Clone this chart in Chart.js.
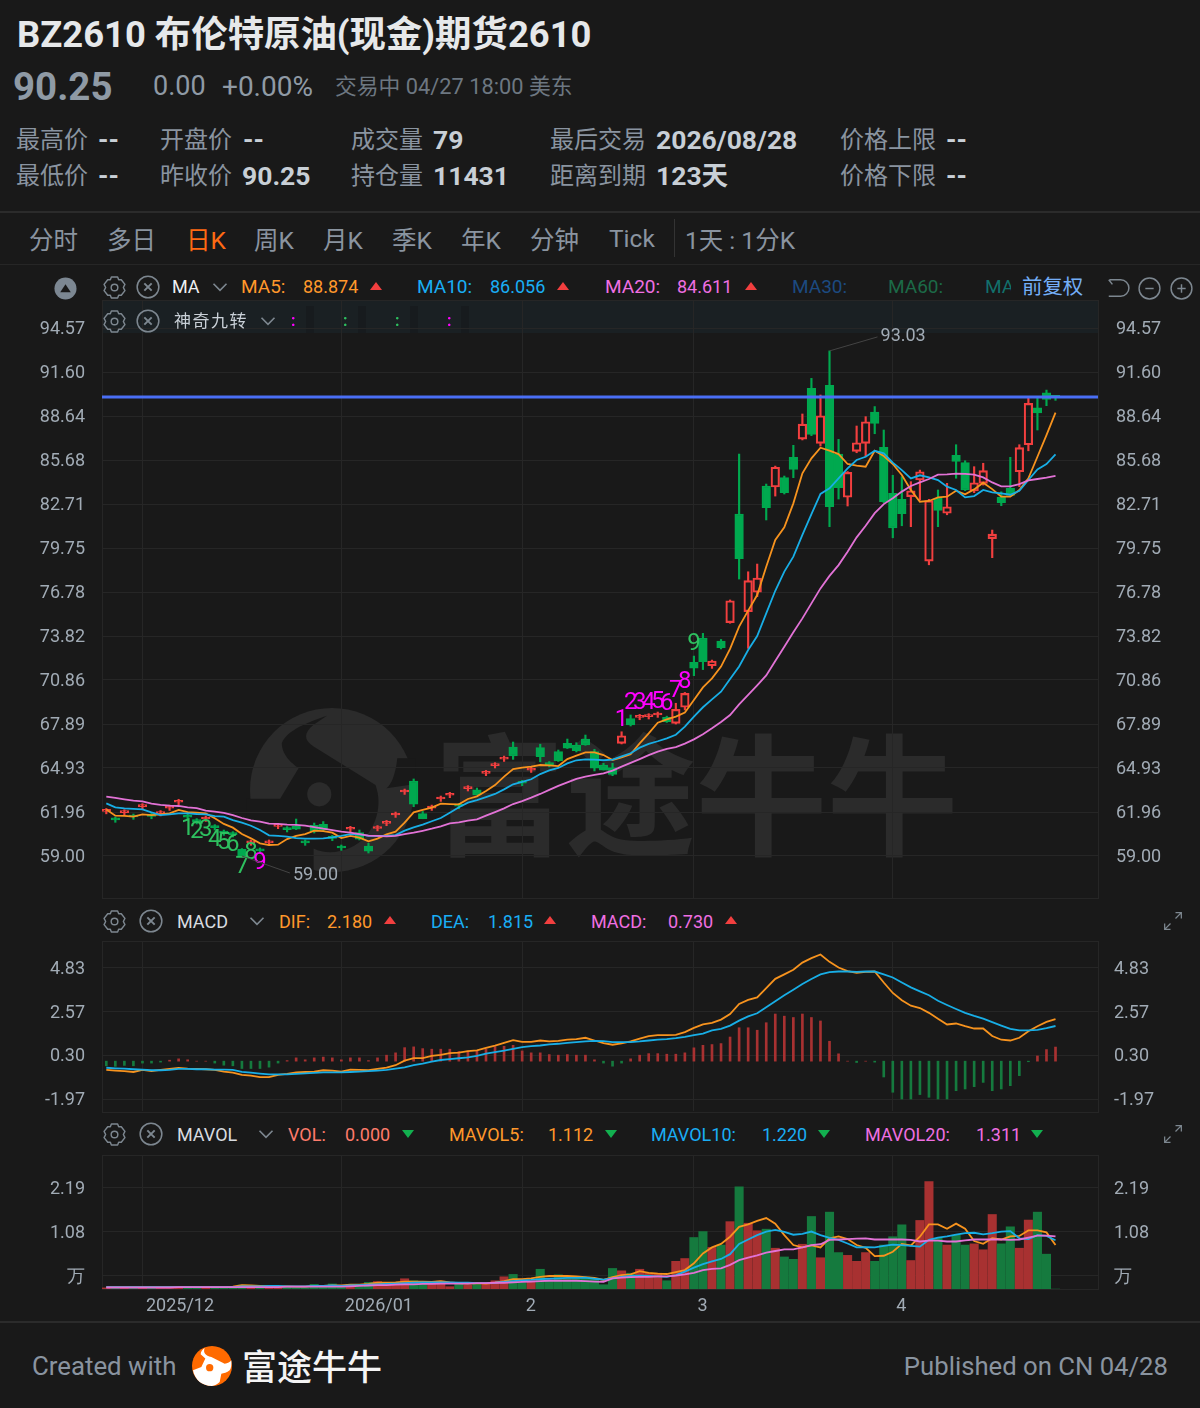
<!DOCTYPE html>
<html lang="zh">
<head>
<meta charset="utf-8">
<title>BZ2610</title>
<script src="https://cdn.jsdelivr.net/npm/chart.js@4"></script>
<style>
html, body { margin: 0; padding: 0; background: #191919; }
#page { position: relative; width: 1200px; height: 1408px; overflow: hidden; background: #191919;
    font-family: Roboto, "Noto Sans CJK SC", sans-serif; }
#page span { position: absolute; white-space: nowrap; transform: translateY(-50%); }
#page canvas { position: absolute; left: 0; }
.line { position: absolute; left: 0; width: 1200px; background: #262626; }
.frame { position: absolute; left: 102px; width: 995px; border: 1px solid #262626; }
svg.icon { position: absolute; overflow: visible; }
</style>
</head>
<body>
<div id="page">
    <div class="line" style="top:211px;height:2px;background:#2b2b2b"></div>
    <div class="line" style="top:264px;height:1px"></div>
    <div class="line" style="top:1321px;height:2px;background:#2b2b2b"></div>
    <div style="position:absolute;left:674px;top:219px;width:1px;height:38px;background:#333"></div>

    <!-- полоса строки神奇九转 -->
    <div style="position:absolute;left:102px;top:300px;width:996px;height:33px;background:#1a2023"></div>
    <div style="position:absolute;left:306px;top:306px;width:8px;height:27px;background:#171b1e"></div>
    <div style="position:absolute;left:358px;top:306px;width:8px;height:27px;background:#171b1e"></div>
    <div style="position:absolute;left:410px;top:306px;width:8px;height:27px;background:#171b1e"></div>
    <div style="position:absolute;left:461px;top:306px;width:8px;height:27px;background:#171b1e"></div>

    <!-- водяной знак -->
    <svg class="icon" style="left:250px;top:708px" width="164" height="164" viewBox="450 85 490 490">
        <circle cx="695" cy="330" r="245" fill="#2b2b2b"/>
        <path d="M680,108 C630,125 560,150 545,190 C545,225 575,250 595,265 L540,356 L440,356 L440,590 L640,590 L640,505
            C690,530 760,510 795,470 C830,430 845,370 825,315 L640,200 C610,180 610,160 640,135 Z" fill="#191919"/>
        <path d="M890,235 C885,280 875,310 858,325 L945,312 L945,235 Z" fill="#191919"/>
        <circle cx="657" cy="343" r="36" fill="#2b2b2b"/>
    </svg>
    <span style="left:434px;top:788px;font-size:131px;font-weight:700;color:#2b2b2b">富途牛牛</span>

    <div class="frame" style="top:300px;height:597px"></div>
    <div class="frame" style="top:941px;height:170px"></div>
    <div class="frame" style="top:1155px;height:133px"></div>

    <canvas id="mainChart" width="1200" height="600" style="top:300px"></canvas>
    <canvas id="macdChart" width="1200" height="172" style="top:941px"></canvas>
    <canvas id="volChart" width="1200" height="165" style="top:1155px"></canvas>
</div>

<script>
'use strict';

// цены (свечи)
const openPrice = [
    62.01,61.47,61.92,61.67,62.33,61.71,61.86,62.23,62.62,61.65,
    61.36,61.49,60.95,60.59,60.48,59.45,59.88,59.38,59.88,61.00,
    60.82,61.02,59.92,61.07,61.14,60.23,59.58,60.80,60.57,59.67,
    60.85,61.20,61.76,63.31,64.05,61.86,62.23,62.84,63.09,62.39,
    63.54,63.45,64.57,65.09,65.53,66.34,63.94,64.79,66.30,65.20,
    66.03,66.59,66.48,66.88,66.03,65.13,64.95,66.59,68.25,68.34,
    68.39,68.50,68.34,67.94,69.02,72.05,73.69,71.82,73.48,74.72,
    82.04,75.46,76.77,83.93,83.86,84.49,85.86,87.09,90.51,86.80,
    90.71,86.08,83.17,86.26,86.80,88.91,86.53,83.43,83.03,83.21,
    84.33,78.87,83.10,82.09,86.00,85.50,83.59,84.11,80.38,83.17,
    83.77,84.89,86.71,89.20,90.21,89.92
];
const highPrice = [
    62.20,61.63,62.12,61.83,62.53,61.87,62.06,62.43,62.82,61.81,
    61.52,61.69,61.11,60.75,60.64,59.50,60.08,59.54,60.08,61.20,
    60.98,61.49,60.08,61.22,61.32,60.39,59.74,61.00,60.75,59.86,
    61.05,61.40,61.96,63.51,64.19,62.00,62.43,63.04,63.29,62.55,
    63.74,63.58,64.77,65.29,65.73,66.68,64.10,64.99,66.53,65.36,
    66.14,66.88,66.63,67.15,66.19,65.25,65.25,67.37,68.50,68.54,
    68.59,68.70,68.42,69.29,70.02,72.47,74.00,72.20,73.59,76.25,
    86.08,78.15,78.67,84.06,85.27,84.60,86.67,88.78,91.18,90.06,
    93.03,87.07,84.90,87.97,88.60,89.28,87.70,84.65,84.55,84.22,
    85.00,83.03,83.66,84.11,86.71,85.63,85.23,85.46,80.96,83.54,
    85.86,86.71,89.86,89.86,90.39,90.00
];
const lowPrice = [
    61.84,61.27,61.76,61.47,62.17,61.51,61.70,62.07,62.46,61.45,
    61.16,61.33,60.75,60.39,60.28,59.00,59.72,59.18,59.72,60.84,
    60.62,60.78,59.72,60.55,60.68,60.03,59.38,60.64,60.08,59.20,
    60.69,61.04,61.60,63.15,62.32,61.51,62.07,62.68,62.93,62.19,
    63.38,63.11,64.41,64.93,65.37,65.51,63.74,64.63,65.35,65.00,
    65.37,66.24,66.01,66.46,64.73,64.79,64.41,66.55,67.76,68.18,
    68.23,68.34,68.00,67.89,68.84,71.15,71.56,71.64,72.95,74.68,
    77.66,72.99,76.47,81.64,83.25,83.39,84.49,87.03,87.32,86.62,
    81.19,83.05,82.58,86.17,85.90,87.45,82.80,80.44,81.25,81.19,
    82.98,78.62,81.19,81.99,84.45,83.61,83.48,83.99,79.10,82.60,
    83.25,83.88,86.30,87.70,89.34,89.70
];
const closePrice = [
    62.05,61.43,61.96,61.63,62.37,61.67,61.90,62.27,62.66,61.61,
    61.32,61.53,60.91,60.55,60.44,59.02,59.92,59.34,59.92,61.04,
    60.78,60.80,59.88,60.66,60.75,60.19,59.54,60.84,60.13,59.32,
    60.89,61.24,61.80,63.35,62.50,61.51,62.27,62.88,63.13,62.35,
    63.58,63.11,64.61,65.13,65.57,65.74,63.90,64.83,65.69,65.16,
    65.42,66.26,66.09,66.48,64.91,64.79,64.50,67.10,67.83,68.38,
    68.43,68.54,68.05,68.88,69.96,71.65,72.09,72.14,73.03,76.20,
    79.03,77.55,77.73,82.46,85.19,83.48,85.05,88.10,87.41,88.66,
    82.53,83.81,84.85,86.84,88.26,88.15,82.87,81.10,82.06,83.61,
    84.89,82.94,82.29,82.53,85.59,83.66,84.15,84.96,80.69,82.80,
    83.30,86.51,89.50,88.85,89.77,89.90
];

// скользящие средние
const ma5 = [
    62.14,61.72,61.70,61.65,61.81,61.76,61.81,61.87,62.10,61.96,
    61.92,61.87,61.54,61.16,60.91,60.48,60.19,59.85,59.74,59.76,
    60.14,60.35,60.48,60.71,60.68,60.57,60.21,60.35,60.23,59.99,
    60.17,60.46,60.64,61.25,61.94,62.10,62.26,62.53,62.50,62.48,
    62.84,63.02,63.38,63.78,64.35,64.86,64.95,65.02,65.13,65.11,
    65.06,65.53,65.76,65.98,65.98,65.80,65.47,65.65,65.85,66.59,
    67.26,67.98,68.21,68.39,68.66,69.51,70.36,70.97,71.76,72.95,
    74.45,75.53,76.58,78.49,80.29,81.14,82.76,84.78,85.79,86.51,
    86.31,86.08,85.41,85.30,85.23,86.30,85.95,85.41,84.67,83.66,
    82.87,82.92,83.16,83.21,83.61,83.37,83.70,84.15,83.72,83.21,
    83.21,83.66,84.44,85.90,87.36,88.87
];
const ma10 = [
    62.55,62.28,62.21,62.17,62.14,61.94,61.76,61.81,61.87,61.87,
    61.83,61.81,61.69,61.65,61.42,61.25,61.04,60.75,60.39,60.35,
    60.30,60.21,60.17,60.17,60.19,60.26,60.35,60.48,60.46,60.35,
    60.35,60.35,60.41,60.71,60.93,61.11,61.34,61.56,61.92,62.28,
    62.59,62.77,62.97,63.18,63.49,63.83,63.99,64.17,64.52,64.77,
    64.93,65.24,65.45,65.51,65.49,65.45,65.49,65.71,65.92,66.30,
    66.55,66.73,66.93,67.17,67.71,68.39,69.02,69.55,70.07,70.92,
    71.77,72.88,73.82,75.35,76.87,78.16,79.17,80.63,82.04,83.39,
    83.77,84.44,85.12,85.68,85.90,86.30,86.13,85.50,85.00,84.44,
    84.65,84.51,84.33,83.88,83.66,83.16,83.25,83.66,83.50,83.43,
    83.34,83.61,84.33,85.05,85.41,86.06
];
const ma20 = [
    63.00,62.91,62.82,62.73,62.68,62.53,62.44,62.39,62.37,62.28,
    62.23,62.05,61.99,61.90,61.76,61.56,61.40,61.31,61.18,61.16,
    61.11,61.09,61.04,60.95,60.84,60.75,60.64,60.57,60.48,60.37,
    60.35,60.32,60.35,60.48,60.57,60.70,60.84,61.00,61.20,61.27,
    61.38,61.47,61.72,61.96,62.21,62.50,62.70,62.93,63.18,63.45,
    63.72,63.96,64.19,64.35,64.46,64.57,64.75,65.02,65.27,65.53,
    65.80,66.03,66.21,66.34,66.57,66.86,67.20,67.60,68.03,68.50,
    69.22,69.85,70.50,71.17,72.14,73.10,74.07,75.01,76.02,77.03,
    77.87,78.60,79.50,80.47,81.25,82.10,82.71,83.10,83.55,83.93,
    84.17,84.40,84.69,84.71,84.76,84.74,84.69,84.51,84.17,83.90,
    83.90,84.06,84.31,84.40,84.49,84.61
];

// MACD
const difLine = [
    -0.45,-0.49,-0.52,-0.56,-0.45,-0.52,-0.45,-0.40,-0.35,-0.39,
    -0.40,-0.42,-0.45,-0.54,-0.59,-0.71,-0.75,-0.83,-0.83,-0.71,
    -0.66,-0.58,-0.56,-0.54,-0.47,-0.49,-0.54,-0.44,-0.45,-0.47,
    -0.40,-0.34,-0.21,0.03,0.16,0.16,0.27,0.33,0.42,0.44,
    0.52,0.56,0.69,0.81,0.95,1.09,1.00,1.00,1.07,1.02,
    1.05,1.11,1.14,1.21,1.07,0.93,0.85,0.92,1.02,1.17,
    1.30,1.35,1.35,1.36,1.50,1.72,1.90,1.98,2.15,2.44,
    2.96,3.17,3.30,3.78,4.26,4.49,4.73,5.10,5.33,5.52,
    5.14,4.85,4.66,4.57,4.62,4.64,4.07,3.53,3.15,2.87,
    2.75,2.50,2.19,1.90,1.95,1.81,1.69,1.69,1.30,1.11,
    1.07,1.21,1.55,1.81,2.03,2.18
];
const deaLine = [
    -0.34,-0.37,-0.39,-0.42,-0.44,-0.47,-0.47,-0.45,-0.40,-0.40,
    -0.42,-0.42,-0.44,-0.44,-0.45,-0.56,-0.59,-0.64,-0.68,-0.68,
    -0.68,-0.66,-0.63,-0.61,-0.58,-0.58,-0.58,-0.56,-0.54,-0.52,
    -0.49,-0.45,-0.39,-0.32,-0.21,-0.13,-0.03,0.06,0.11,0.15,
    0.20,0.27,0.39,0.47,0.54,0.63,0.73,0.78,0.81,0.87,
    0.90,0.95,0.99,1.02,1.05,1.04,0.99,0.99,0.99,1.02,
    1.07,1.11,1.14,1.19,1.26,1.35,1.43,1.59,1.67,1.84,
    2.10,2.32,2.48,2.79,3.10,3.41,3.70,3.99,4.25,4.49,
    4.61,4.64,4.64,4.62,4.64,4.64,4.49,4.33,4.07,3.82,
    3.61,3.41,3.13,2.91,2.70,2.50,2.34,2.20,2.02,1.84,
    1.67,1.59,1.59,1.62,1.71,1.82
];
const macdBar = [
    -0.24,-0.27,-0.22,-0.24,-0.10,-0.10,-0.05,0.05,0.12,0.07,
    0,0,-0.10,-0.21,-0.24,-0.38,-0.38,-0.38,-0.31,-0.10,
    0.03,0.17,0.07,0.17,0.21,0.17,0.07,0.17,0.17,0.03,
    0.17,0.31,0.43,0.70,0.74,0.65,0.62,0.62,0.62,0.50,
    0.53,0.53,0.62,0.75,0.77,0.82,0.53,0.43,0.43,0.34,
    0.31,0.34,0.31,0.31,0.07,-0.10,-0.26,-0.10,0.12,0.31,
    0.39,0.39,0.36,0.36,0.43,0.69,0.82,0.86,0.91,1.25,
    1.73,1.73,1.60,1.99,2.44,2.33,2.26,2.44,2.26,2.08,
    1.03,0.38,0,-0.07,0,-0.05,-0.82,-1.61,-1.96,-1.96,
    -1.73,-1.87,-1.96,-1.96,-1.53,-1.44,-1.32,-1.10,-1.53,-1.44,
    -1.27,-0.75,-0.03,0.27,0.60,0.73
];

// объёмы
const volBar = [
    -0.33,-0.34,-0.34,-0.34,-0.34,-0.34,-0.34,-0.33,-0.33,-0.33,
    -0.34,-0.33,-0.33,-0.32,-0.31,-0.26,-0.30,-0.32,-0.27,-0.32,
    -0.32,-0.33,-0.33,-0.24,-0.30,-0.23,-0.30,-0.24,-0.30,-0.19,
    -0.17,-0.22,-0.22,-0.10,-0.15,-0.17,-0.17,-0.16,-0.30,-0.22,
    -0.26,-0.22,-0.22,-0.15,-0.05,0.01,-0.20,-0.15,0.14,-0.15,
    0.00,-0.05,-0.06,-0.06,-0.11,-0.25,0.16,0.10,0.04,0.14,
    0.04,0.04,-0.15,0.34,0.41,0.94,1.09,0.69,0.75,1.34,
    2.22,1.30,1.11,1.15,0.67,0.45,0.39,0.77,1.47,0.43,
    1.58,0.56,0.49,0.34,0.56,0.34,0.75,0.96,1.26,0.36,
    1.37,2.35,0.92,0.75,1.00,0.75,0.78,0.63,1.52,0.78,
    1.21,0.67,1.38,1.58,0.52,-0.36
];
const mavol5 = [
    -0.31,-0.31,-0.31,-0.31,-0.31,-0.31,-0.31,-0.31,-0.31,-0.31,
    -0.31,-0.31,-0.31,-0.31,-0.30,-0.26,-0.27,-0.28,-0.28,-0.29,
    -0.29,-0.30,-0.30,-0.28,-0.28,-0.27,-0.27,-0.25,-0.25,-0.23,
    -0.20,-0.20,-0.19,-0.17,-0.17,-0.17,-0.18,-0.16,-0.19,-0.21,
    -0.22,-0.21,-0.22,-0.20,-0.16,-0.11,-0.11,-0.09,-0.05,-0.03,
    -0.03,-0.03,-0.04,-0.06,-0.08,-0.13,-0.06,-0.01,0.01,0.09,
    0.05,0.03,0.02,0.07,0.12,0.29,0.54,0.69,0.78,0.96,
    1.21,1.27,1.36,1.43,1.29,1.00,0.75,0.69,0.74,0.69,
    0.92,0.97,0.90,0.75,0.68,0.47,0.48,0.58,0.78,0.74,
    0.96,1.27,1.27,1.16,1.29,1.16,0.85,0.78,0.92,0.89,
    0.97,0.98,1.12,1.12,1.07,0.75
];
const mavol10 = [
    -0.31,-0.31,-0.31,-0.31,-0.31,-0.31,-0.31,-0.31,-0.31,-0.31,
    -0.31,-0.31,-0.31,-0.31,-0.31,-0.29,-0.29,-0.29,-0.28,-0.28,
    -0.29,-0.29,-0.29,-0.28,-0.28,-0.27,-0.28,-0.27,-0.26,-0.25,
    -0.24,-0.23,-0.22,-0.21,-0.20,-0.19,-0.19,-0.19,-0.19,-0.20,
    -0.20,-0.21,-0.21,-0.20,-0.18,-0.16,-0.14,-0.13,-0.11,-0.10,
    -0.09,-0.08,-0.08,-0.07,-0.10,-0.12,-0.09,-0.05,-0.03,-0.02,
    -0.03,-0.04,-0.05,-0.01,0.08,0.18,0.27,0.34,0.40,0.52,
    0.78,0.89,1.00,1.09,1.13,1.08,1.01,1.03,1.09,1.00,
    0.93,0.88,0.79,0.69,0.70,0.69,0.73,0.76,0.75,0.73,
    0.71,0.88,0.94,0.97,1.01,1.05,1.06,1.02,1.05,1.09,
    1.10,0.92,0.90,1.00,0.98,0.87
];
const mavol20 = [
    -0.32,-0.32,-0.32,-0.32,-0.32,-0.32,-0.32,-0.32,-0.31,-0.31,
    -0.31,-0.31,-0.31,-0.31,-0.31,-0.31,-0.31,-0.31,-0.31,-0.31,
    -0.30,-0.30,-0.30,-0.30,-0.30,-0.30,-0.30,-0.29,-0.28,-0.27,
    -0.26,-0.26,-0.25,-0.24,-0.24,-0.23,-0.23,-0.22,-0.22,-0.22,
    -0.22,-0.21,-0.21,-0.20,-0.20,-0.19,-0.18,-0.17,-0.16,-0.15,
    -0.15,-0.15,-0.15,-0.16,-0.17,-0.18,-0.09,-0.07,-0.06,-0.05,
    -0.05,-0.04,-0.04,-0.02,0.01,0.05,0.12,0.15,0.16,0.25,
    0.37,0.43,0.49,0.56,0.60,0.64,0.64,0.69,0.75,0.77,
    0.88,0.89,0.90,0.91,0.92,0.89,0.89,0.89,0.89,0.88,
    0.84,0.86,0.86,0.84,0.84,0.87,0.89,0.89,0.89,0.89,
    0.88,0.89,0.94,0.99,0.99,0.97
];

// подписи осей
const priceTicks = [94.57, 91.60, 88.64, 85.68, 82.71, 79.75, 76.78, 73.82, 70.86, 67.89, 64.93, 61.96, 59.00];
const macdTicks = [4.83, 2.57, 0.30, -1.97];
const volTicks = [2.19, 1.08, -0.03];
const volTickLabels = ['2.19', '1.08', '万'];
const dateTicks = [4, 26, 46, 65, 87];
const dateLabels = ['2025/12', '2026/01', '2', '3', '4'];

// синяя линия цены и экстремумы
const priceLine = 89.92;
const extremeIndex = [80, 15];
const extremeValue = [93.03, 59.00];

//神奇九转: индекс свечи и уровень цифры
const nineDownIndex = [9, 10, 11, 12, 13, 14, 15, 16, 17];
const nineDownLevel = [60.82, 60.62, 60.75, 60.08, 59.88, 59.74, 58.26, 59.20, 58.53];
const nineUpIndex = [57, 58, 59, 60, 61, 62, 63, 64, 65];
const nineUpLevel = [68.16, 69.31, 69.31, 69.31, 69.37, 69.24, 70.12, 70.72, 73.28];

const X_MIN = -0.476, X_MAX = 109.7;
const RED = '#f23f3f', GREEN = '#00a94f';
const VOL_RED = '#a83131', VOL_GREEN = '#157a3e';
const ORANGE = '#f7931e', CYAN = '#18aee6', PINK = '#e272d6';
const GRID = '#262626', TICK_COLOR = '#a1abb5';

const isUp = (i) => closePrice[i] >= openPrice[i];
const toPoints = (arr) => arr.map((v, i) => ({ x: i, y: v }));
const candleColor = (ctx) => (isUp(ctx.dataIndex) ? RED : GREEN);
const volumeColor = (ctx) => (isUp(ctx.dataIndex) ? VOL_RED : VOL_GREEN);

function lineSet(points, color, order, width) {
    return {
        type: 'line',
        data: points,
        borderColor: color,
        borderWidth: width || 1.8,
        pointRadius: 0,
        tension: 0,
        order: order,
    };
}

// библиотека резервирует место под подписи крайних делений, здесь оно не нужно
function noPadding(axis) {
    axis.paddingTop = 0;
    axis.paddingBottom = 0;
    axis.paddingLeft = 0;
    axis.paddingRight = 0;
}

function xAxis(showLabels) {
    return {
        type: 'linear',
        min: X_MIN,
        max: X_MAX,
        offset: false,
        grid: { color: GRID, offset: false, drawTicks: false },
        border: { display: false },
        afterBuildTicks(axis) {
            axis.ticks = dateTicks.map((v) => ({ value: v }));
        },
        afterFit(axis) {
            axis.height = showLabels ? 31 : 2;
            noPadding(axis);
        },
        ticks: {
            display: showLabels,
            autoSkip: false,
            maxRotation: 0,
            align: 'start',
            labelOffset: 3.5,
            padding: 7,
            color: TICK_COLOR,
            font: { family: 'Roboto', size: 18 },
            callback: (v, i) => dateLabels[i],
        },
    };
}

function yAxes(min, max, values, labelFor, rightPad) {
    const base = {
        min: min,
        max: max,
        border: { display: false },
        afterBuildTicks(axis) {
            axis.ticks = values.map((v) => ({ value: v }));
        },
        afterFit(axis) {
            axis.width = 102;
            noPadding(axis);
        },
    };
    const ticks = {
        autoSkip: false,
        labelOffset: 1.5,
        color: TICK_COLOR,
        font: { family: 'Roboto', size: 18 },
        callback: labelFor,
    };
    return {
        y: Object.assign({}, base, {
            position: 'left',
            grid: { color: GRID, drawTicks: false },
            ticks: Object.assign({}, ticks, { padding: 17 }),
        }),
        yRight: Object.assign({}, base, {
            position: 'right',
            grid: { drawOnChartArea: false, drawTicks: false },
            ticks: Object.assign({}, ticks, { padding: rightPad }),
        }),
    };
}

function baseOptions(x, y) {
    return {
        responsive: false,
        animation: false,
        layout: { autoPadding: false },
        plugins: { legend: { display: false }, tooltip: { enabled: false } },
        scales: Object.assign({ x: x }, y),
    };
}

// цифры девятки и подписи экстремумов рисуем по шкалам графика
const mainOverlay = {
    id: 'mainOverlay',
    afterDatasetsDraw(chart) {
        const ctx = chart.ctx;
        const xs = chart.scales.x;
        const ys = chart.scales.y;
        ctx.save();
        ctx.textAlign = 'center';
        ctx.textBaseline = 'middle';
        ctx.font = '400 24px Roboto';
        nineDownIndex.forEach((idx, n) => {
            ctx.fillStyle = n === 8 ? '#ff00ff' : '#2ec05f';
            ctx.fillText(String(n + 1), xs.getPixelForValue(idx), ys.getPixelForValue(nineDownLevel[n]));
        });
        nineUpIndex.forEach((idx, n) => {
            ctx.fillStyle = n === 8 ? '#2ec05f' : '#ff00ff';
            ctx.fillText(String(n + 1), xs.getPixelForValue(idx), ys.getPixelForValue(nineUpLevel[n]));
        });
        ctx.font = '18px Roboto';
        ctx.textAlign = 'left';
        extremeIndex.forEach((idx, n) => {
            const px = xs.getPixelForValue(idx);
            const py = ys.getPixelForValue(extremeValue[n]);
            const dy = n === 0 ? -14 : 17;
            ctx.strokeStyle = '#444';
            ctx.lineWidth = 1;
            ctx.beginPath();
            ctx.moveTo(px, py);
            ctx.lineTo(px + 48, py + dy);
            ctx.stroke();
            ctx.fillStyle = '#a1abb5';
            ctx.fillText(extremeValue[n].toFixed(2), px + 51, py + dy + (n === 0 ? 0 : 3));
        });
        ctx.restore();
    },
};

const bodyTop = (i) => Math.max(openPrice[i], closePrice[i]);
const bodyBottom = (i) => Math.min(openPrice[i], closePrice[i]);
const candleIdx = openPrice.map((v, i) => i);

new Chart(document.getElementById('mainChart'), {
    type: 'bar',
    data: {
        datasets: [
            lineSet([{ x: X_MIN, y: priceLine }, { x: X_MAX, y: priceLine }], '#4a6ff5', 0, 3),
            lineSet(toPoints(ma20), PINK, 1),
            lineSet(toPoints(ma10), CYAN, 2),
            lineSet(toPoints(ma5), ORANGE, 3),
            {
                // верхняя тень
                data: candleIdx.map((i) => ({ x: i, y: [bodyTop(i), highPrice[i]] })),
                backgroundColor: candleColor,
                barThickness: 1.5,
                grouped: false,
                order: 5,
            },
            {
                // нижняя тень
                data: candleIdx.map((i) => ({ x: i, y: [lowPrice[i], bodyBottom(i)] })),
                backgroundColor: candleColor,
                barThickness: 1.5,
                grouped: false,
                order: 5,
            },
            {
                // тело свечи: рост полый, падение залитое
                data: candleIdx.map((i) => ({ x: i, y: [bodyBottom(i), bodyTop(i)] })),
                backgroundColor: (ctx) => (isUp(ctx.dataIndex) ? 'transparent' : GREEN),
                borderColor: candleColor,
                borderWidth: 1.5,
                borderSkipped: false,
                barThickness: 8.6,
                minBarLength: 2,
                grouped: false,
                order: 4,
            },
        ],
    },
    options: baseOptions(xAxis(false), yAxes(56.17, 96.46, priceTicks, (v, i) => priceTicks[i].toFixed(2), 18)),
    plugins: [mainOverlay],
});

new Chart(document.getElementById('macdChart'), {
    type: 'bar',
    data: {
        datasets: [
            lineSet(toPoints(deaLine), CYAN, 1),
            lineSet(toPoints(difLine), ORANGE, 2),
            {
                data: toPoints(macdBar),
                backgroundColor: (ctx) => (macdBar[ctx.dataIndex] >= 0 ? VOL_RED : VOL_GREEN),
                barThickness: 2,
                grouped: false,
                order: 3,
            },
        ],
    },
    options: baseOptions(xAxis(false), yAxes(-2.58, 6.22, macdTicks, (v, i) => macdTicks[i].toFixed(2), 16)),
});

new Chart(document.getElementById('volChart'), {
    type: 'bar',
    data: {
        datasets: [
            lineSet(toPoints(mavol20), PINK, 1),
            lineSet(toPoints(mavol10), CYAN, 2),
            lineSet(toPoints(mavol5), ORANGE, 3),
            {
                data: toPoints(volBar),
                base: -0.36,
                backgroundColor: volumeColor,
                barThickness: 8.4,
                grouped: false,
                order: 4,
            },
        ],
    },
    options: baseOptions(xAxis(true), yAxes(-0.358, 3.02, volTicks, (v, i) => volTickLabels[i], 16)),
});

// всё, что вокруг графика: текст и значки
const page = document.getElementById('page');

function txt(x, y, size, color, text, weight) {
    const s = document.createElement('span');
    s.style.left = x + 'px';
    s.style.top = y + 'px';
    s.style.fontSize = size + 'px';
    s.style.color = color;
    if (weight) s.style.fontWeight = weight;
    s.textContent = text;
    page.appendChild(s);
    return s;
}

function icon(x, y, size, inner) {
    const ns = 'http://www.w3.org/2000/svg';
    const el = document.createElementNS(ns, 'svg');
    el.setAttribute('class', 'icon');
    el.setAttribute('width', size);
    el.setAttribute('height', size);
    el.setAttribute('viewBox', '-12 -12 24 24');
    el.style.left = x - size / 2 + 'px';
    el.style.top = y - size / 2 + 'px';
    el.innerHTML = inner;
    page.appendChild(el);
}

const ICON_GREY = '#7d8790';
const gear = () =>
    '<path d="M-3,-10 L3,-10 L4,-7.5 L6.5,-7.5 L10,-3 L8.5,0 L10,3 L6.5,7.5 L4,7.5 L3,10 L-3,10 L-4,7.5 L-6.5,7.5 L-10,3 L-8.5,0 L-10,-3 L-6.5,-7.5 L-4,-7.5 Z" fill="none" stroke="' +
    ICON_GREY + '" stroke-width="1.4" stroke-linejoin="round"/><circle r="3.2" fill="none" stroke="' + ICON_GREY + '" stroke-width="1.4"/>';
const closeCircle = () =>
    '<circle r="10" fill="none" stroke="' + ICON_GREY + '" stroke-width="1.4"/><path d="M-3.4,-3.4 L3.4,3.4 M3.4,-3.4 L-3.4,3.4" stroke="' +
    ICON_GREY + '" stroke-width="1.8"/>';
const chevron = () => '<path d="M-6,-3 L0,3 L6,-3" fill="none" stroke="' + ICON_GREY + '" stroke-width="1.5"/>';
const triUp = (c) => '<path d="M-6,4 L6,4 L0,-4 Z" fill="' + c + '"/>';
const triDown = (c) => '<path d="M-6,-4 L6,-4 L0,4 Z" fill="' + c + '"/>';
const expand = () =>
    '<path d="M3,-10 L10,-10 L10,-3 M10,-10 L3,-3 M-3,10 L-10,10 L-10,3 M-10,10 L-3,3" fill="none" stroke="' + ICON_GREY + '" stroke-width="1.5"/>';

const TITLE = '#e6e8ea', MUTED = '#8f9aa5', LABEL = '#8a94a0', VALUE = '#c8cfd6';

txt(17, 31, 36.4, TITLE, 'BZ2610 布伦特原油(现金)期货2610', 700);
txt(13, 86, 38.5, MUTED, '90.25', 700);
txt(153, 86, 27, MUTED, '0.00');
txt(222, 86, 28, MUTED, '+0.00%');
txt(335, 84, 21.8, '#6d7781', '交易中 04/27 18:00 美东');

const statColumns = [16, 160, 351, 550, 840];
const statLabels = [['最高价', '开盘价', '成交量', '最后交易', '价格上限'], ['最低价', '昨收价', '持仓量', '距离到期', '价格下限']];
const statValues = [['--', '--', '79', '2026/08/28', '--'], ['--', '90.25', '11431', '123天', '--']];
const statValueX = [[98, 243, 433, 656, 946], [98, 242, 433, 656, 946]];
[139, 175].forEach((y, r) => {
    statColumns.forEach((x, c) => {
        txt(x, y - 2, 24, LABEL, statLabels[r][c]);
        const hasCjk = statValues[r][c].endsWith('天');
        txt(statValueX[r][c], hasCjk ? y - 2 : y, 26.5, VALUE, statValues[r][c], 700);
    });
});

const tabNames = ['分时', '多日', '日K', '周K', '月K', '季K', '年K', '分钟', 'Tick', '1天 : 1分K'];
const tabX = [29, 107, 186, 254, 323, 392, 461, 530, 609, 685];
tabNames.forEach((t, i) => txt(tabX[i], 238, 24.5, i === 2 ? '#ff6a13' : LABEL, t));

// первая строка легенды
icon(65, 288, 23, '<circle r="11.5" fill="#7c8792"/><path d="M-5.5,4 L5.5,4 L0,-4.5 Z" fill="#191919"/>');
icon(114, 287, 25, gear());
icon(148, 287, 26, closeCircle());
txt(172, 286, 18, '#eef0f2', 'MA');
icon(220, 287, 26, chevron());
const MA_TEXT = ['#ff982b', '#19aef5', '#f06fe2'];
[[241, 303, 376, 'MA5:', '88.874'], [417, 490, 563, 'MA10:', '86.056'], [605, 677, 751, 'MA20:', '84.611']].forEach((r, i) => {
    txt(r[0], 286, 19, MA_TEXT[i], r[3]);
    txt(r[1], 286, 18, MA_TEXT[i], r[4]);
    icon(r[2], 286, 24, triUp(RED));
});
txt(792, 286, 19, '#1c4a80', 'MA30:');
txt(888, 286, 19, '#1c6a47', 'MA60:');
txt(985, 286, 19, '#12706c', 'MA').style.cssText += ';width:26px;overflow:hidden';
txt(1022, 285, 20.4, '#74aef7', '前复权');
icon(1117, 288, 22,
    '<path d="M-8,-9 L4,-9 A9,9 0 0 1 4,9 L-9,9 M-9,-9 L-5,-4" fill="none" stroke="' + ICON_GREY + '" stroke-width="1.6"/>');
icon(1149, 288, 25, '<circle r="10" fill="none" stroke="' + ICON_GREY + '" stroke-width="1.4"/><path d="M-4,0 L4,0" stroke="' + ICON_GREY + '" stroke-width="1.4"/>');
icon(1181, 288, 25, '<circle r="10" fill="none" stroke="' + ICON_GREY + '" stroke-width="1.4"/><path d="M-4,0 L4,0 M0,-4 L0,4" stroke="' + ICON_GREY + '" stroke-width="1.4"/>');

// вторая строка: 神奇九转
icon(114, 321, 25, gear());
icon(148, 321, 26, closeCircle());
txt(174, 319, 17, '#c9d0d7', '神奇九转').style.letterSpacing = '1.5px';
icon(268, 321, 26, chevron());
[[291, '#ff00ff'], [343, '#2ec05f'], [395, '#2ec05f'], [447, '#ff00ff']].forEach((c) => txt(c[0], 320, 16, c[1], ':', 700));

// легенда MACD
icon(114, 921, 25, gear());
icon(151, 921, 26, closeCircle());
txt(177, 921, 18, '#d8dce0', 'MACD');
icon(257, 921, 26, chevron());
[[279, 327, 390, 'DIF:', '2.180'], [431, 488, 550, 'DEA:', '1.815'], [591, 668, 731, 'MACD:', '0.730']].forEach((r, i) => {
    txt(r[0], 921, 18, MA_TEXT[i], r[3]);
    txt(r[1], 921, 18, MA_TEXT[i], r[4]);
    icon(r[2], 920, 24, triUp(RED));
});
icon(1173, 921, 20, expand());

// легенда MAVOL
icon(114, 1134, 25, gear());
icon(151, 1134, 26, closeCircle());
txt(177, 1134, 18, '#d8dce0', 'MAVOL');
icon(266, 1134, 26, chevron());
const VOL_TEXT = ['#ff7b6b', '#ff982b', '#19aef5', '#f06fe2'];
[[288, 345, 408, 'VOL:', '0.000'], [449, 548, 611, 'MAVOL5:', '1.112'], [651, 762, 824, 'MAVOL10:', '1.220'], [865, 976, 1037, 'MAVOL20:', '1.311']].forEach((r, i) => {
    txt(r[0], 1134, 18, VOL_TEXT[i], r[3]);
    txt(r[1], 1134, 18, VOL_TEXT[i], r[4]);
    icon(r[2], 1134, 24, triDown('#12b04f'));
});
icon(1173, 1134, 20, expand());

// подвал
txt(32, 1366, 25.8, LABEL, 'Created with');
icon(212, 1366, 40, '<circle r="12" fill="#ff6a00"/><path d="M-4.4,-10.8 C-5.5,-8 -4,-6.2 -0.4,-5.4 L7.6,-1.4 C9.5,-1.6 10.8,-2.4 11.6,-3.5 C11.8,-0.5 11.4,1.5 10.6,2.6 C9,4 7,4.4 5.6,4.6 L4.6,9.6 C3.2,11 1.6,11.8 0,12 C-3,12 -5.6,11 -7.4,9.6 C-9.5,7.8 -11,5.2 -11.4,2.6 L-6.4,0.6 L-4,-4.5 L-6.8,-7 C-6.8,-8.6 -5.8,-10 -4.4,-10.8 Z" fill="#fff"/><circle cx="-1.4" cy="1" r="2.2" fill="#ff6a00"/>');
txt(242, 1364, 35, '#f4f4f4', '富途牛牛', 500);
const pub = txt(0, 1366, 25.7, LABEL, 'Published on CN 04/28');
pub.style.left = 'auto';
pub.style.right = '32px';
</script>
</body>
</html>
